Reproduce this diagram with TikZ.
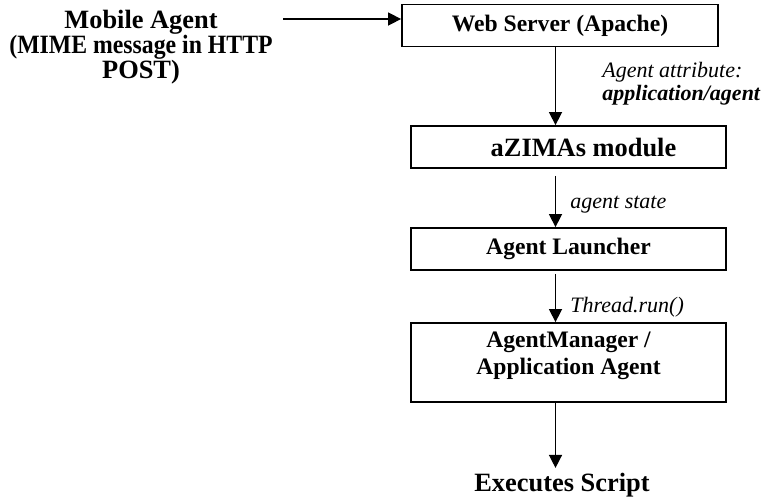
\documentclass[tikz,border=0pt]{standalone}
\usepackage{fontspec}
\setmainfont{Liberation Serif}
\usetikzlibrary{arrows.meta}
\tikzset{
  every picture/.style={line join=miter, >={Triangle[width=6.5pt,length=6.5pt]}},
  box/.style={draw, line width=0.9pt, minimum width=157.5pt, minimum height=21pt, inner sep=0pt, font=\fontsize{11.8}{13}\selectfont\bfseries},
  boxtext/.style={font=\fontsize{11.8}{13.3}\selectfont\bfseries, align=center, inner sep=0pt},
  big/.style={font=\fontsize{13.2}{12.5}\selectfont\bfseries},
  note/.style={font=\fontsize{11}{11.5}\selectfont\itshape, inner sep=0pt},
  flow/.style={->, line width=0.75pt},
}
\begin{document}
\begin{tikzpicture}[x=0.5pt,y=-0.5pt]
\useasboundingbox (0,0) rectangle (776,499);
\coordinate (spine) at (555.5,0);
% boxes and texts
\node[big, align=center] (mobile) at (141,47) {Mobile Agent\\\scalebox{0.9}[1]{(MIME message in HTTP}\\POST)};
\node[box, minimum width=158pt] (web) at (560,25.5) {Web Server (Apache)};
\node[box, font=\fontsize{13.2}{14}\selectfont\bfseries] (azimas) at (568.5,147) {\hspace*{15pt}aZIMAs module};
\node[box] (launcher) at (568.5,249) {Agent Launcher};
\node[box, minimum height=39.5pt] (manager) at (568.5,362.5) {};
\node[boxtext] (managertext) at (568.5,356) {AgentManager /\\Application Agent};
\node[big] (script) at (562,485) {Executes Script};
% labels
\node[note, align=left, anchor=north west] (attr) at (602,62) {Agent attribute:\\\textbf{application/agent}};
\node[note, anchor=base west] (state) at (570,208) {agent state};
\node[note, anchor=base west] (run) at (570,312) {Thread.run()};
% arrows
\coordinate (mobileend) at (283,19);
\draw[flow] (mobileend) -- (mobileend -| web.west);
\draw[flow] (web.south -| spine) -- (azimas.north -| spine);
\draw[flow, shorten <=3.5pt] (azimas.south -| spine) -- (launcher.north -| spine);
\draw[flow, shorten <=1.5pt] (launcher.south -| spine) -- (manager.north -| spine);
\draw[flow] (manager.south -| spine) -- ([yshift=-32.5pt]manager.south -| spine);
\end{tikzpicture}
\end{document}
